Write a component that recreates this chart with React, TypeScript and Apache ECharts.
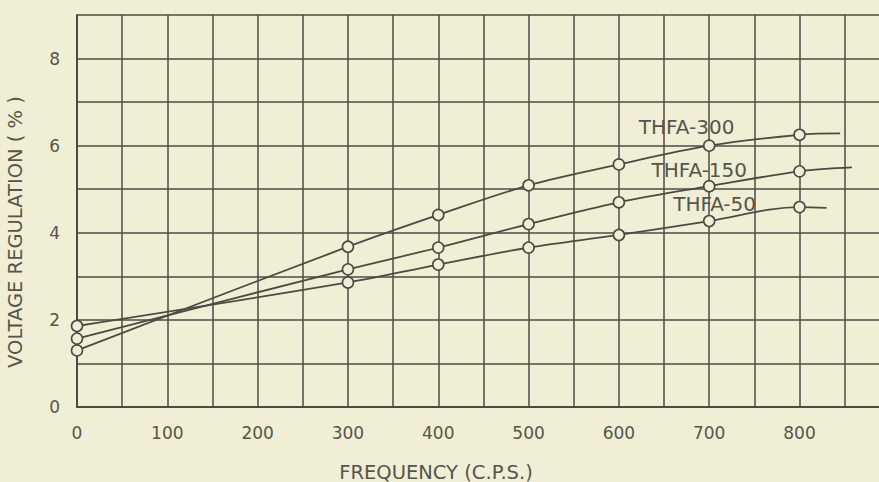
import React, { useEffect, useRef } from "react";
import * as echarts from "echarts";

const freqs = [0, 300, 400, 500, 600, 700, 800];
const thfa300 = [1.3, 3.68, 4.41, 5.09, 5.57, 6.0, 6.25];
const thfa150 = [1.57, 3.16, 3.66, 4.2, 4.7, 5.07, 5.41];
const thfa50 = [1.86, 2.86, 3.27, 3.66, 3.95, 4.27, 4.59];
// unmarked end points where the drawn curves stop
const ends300 = [845, 6.28];
const ends150 = [858, 5.5];
const ends50 = [830, 4.57];
const seriesNames = ["THFA-300", "THFA-150", "THFA-50"];
const labelPos = [
  [675, 6.42],
  [689, 5.44],
  [706, 4.67],
];
const xTicks = [0, 100, 200, 300, 400, 500, 600, 700, 800];
const yTicks = [0, 2, 4, 6, 8];

const INK = "#4b4b44";
const TXT = "#55554d";
const BG = "#f0eed4";
const FONT = "DejaVu Sans";

export default function App() {
  const ref = useRef<HTMLDivElement>(null);
  useEffect(() => {
    if (!ref.current) return;
    const chart = echarts.init(ref.current, undefined, { renderer: "svg" });
    const mk = (vals: number[], end: number[]) => [
      ...freqs.map((f, i) => [f, vals[i]]),
      { value: end, symbol: "none" },
    ];
    const all = [
      [thfa300, ends300],
      [thfa150, ends150],
      [thfa50, ends50],
    ];
    chart.setOption({
      animation: false,
      backgroundColor: BG,
      grid: { left: 77, top: 15, right: 0, bottom: 75, containLabel: false },
      xAxis: {
        type: "value",
        min: 0,
        max: 888,
        interval: 50,
        axisLine: { show: true, lineStyle: { color: INK, width: 2 } },
        axisTick: { show: false },
        splitLine: {
          show: true,
          showMaxLine: false,
          lineStyle: { color: INK, width: 1.5 },
        },
        axisLabel: {
          showMaxLabel: false,
          margin: 17,
          color: TXT,
          fontFamily: FONT,
          fontSize: 17,
          formatter: (v: number) => (xTicks.includes(v) ? String(v) : ""),
        },
      },
      yAxis: {
        type: "value",
        min: 0,
        max: 9,
        interval: 1,
        axisLine: { show: true, lineStyle: { color: INK, width: 2 } },
        axisTick: { show: false },
        splitLine: { show: true, lineStyle: { color: INK, width: 1.5 } },
        axisLabel: {
          margin: 17,
          color: TXT,
          fontFamily: FONT,
          fontSize: 17,
          formatter: (v: number) => (yTicks.includes(v) ? String(v) : ""),
        },
      },
      graphic: [
        {
          type: "text",
          x: 436,
          y: 472,
          style: {
            text: "FREQUENCY (C.P.S.)",
            fill: TXT,
            font: `19.5px "${FONT}"`,
            align: "center",
            verticalAlign: "middle",
          },
        },
        {
          type: "text",
          x: 15,
          y: 232,
          rotation: Math.PI / 2,
          style: {
            text: "VOLTAGE REGULATION ( % )",
            fill: TXT,
            font: `19.5px "${FONT}"`,
            align: "center",
            verticalAlign: "middle",
          },
        },
      ],
      series: all.map(([vals, end], i) => ({
        name: seriesNames[i],
        type: "line",
        smooth: 0.35,
        data: mk(vals as number[], end as number[]),
        symbol: "circle",
        symbolSize: 11,
        lineStyle: { color: INK, width: 1.8 },
        itemStyle: { color: BG, borderColor: INK, borderWidth: 1.6 },
        z: 3,
        markPoint: {
          symbol: "circle",
          symbolSize: 1,
          silent: true,
          itemStyle: { color: "rgba(0,0,0,0)", borderWidth: 0 },
          label: {
            show: true,
            position: "inside",
            color: TXT,
            fontFamily: FONT,
            fontSize: 20,
          },
          data: [
            {
              name: seriesNames[i],
              coord: labelPos[i],
              label: { formatter: seriesNames[i] },
            },
          ],
        },
      })),
    });
    return () => chart.dispose();
  }, []);
  return (
    <div
      ref={ref}
      style={{ position: "fixed", left: 0, top: 0, width: 879, height: 482 }}
    />
  );
}
